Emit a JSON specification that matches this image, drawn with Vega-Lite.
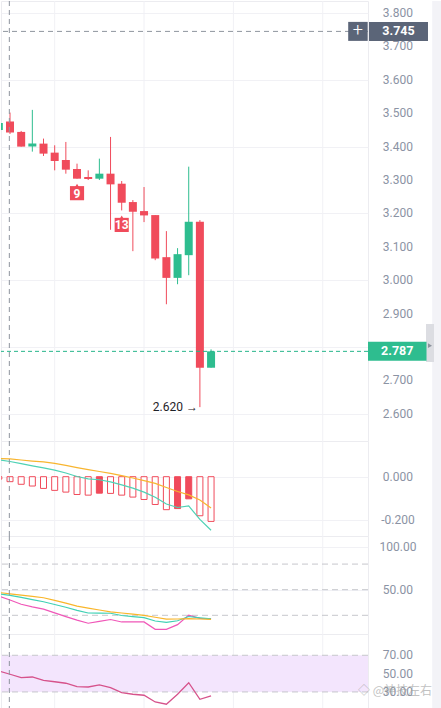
{
  "$schema": "https://vega.github.io/schema/vega-lite/v6.json",
  "background": "white",
  "padding": 0,
  "autosize": {"type": "pad"},
  "spacing": 0,
  "bounds": "flush",
  "resolve": {"scale": {"x": "independent", "y": "independent"}},
  "config": {
    "view": {"stroke": "#ececf0", "strokeWidth": 1},
    "axis": {"title": null, "domain": false, "ticks": false, "labels": false, "gridColor": "#f1f1f5"},
    "axisX": {"disable": true},
    "text": {"font": "Roboto"},
    "concat": {"spacing": 0}
  },
  "datasets": {
    "k": [
      {"i":0,"o":3.450,"h":3.475,"l":3.445,"c":3.471,"hist":-0.011,"dif":0.078,"dea":0.084,"k":45.3,"d":46.7,"j":42.6,"rsi":52.9},
      {"i":1,"o":3.475,"h":3.502,"l":3.438,"c":3.442,"hist":-0.023,"dif":0.070,"dea":0.082,"k":43.3,"d":45.2,"j":38.0,"rsi":49.3},
      {"i":2,"o":3.444,"h":3.447,"l":3.400,"c":3.400,"hist":-0.035,"dif":0.060,"dea":0.077,"k":40.9,"d":43.7,"j":32.9,"rsi":45.6},
      {"i":3,"o":3.400,"h":3.510,"l":3.385,"c":3.409,"hist":-0.043,"dif":0.050,"dea":0.072,"k":38.4,"d":42.2,"j":29.9,"rsi":46.3},
      {"i":4,"o":3.409,"h":3.424,"l":3.372,"c":3.379,"hist":-0.054,"dif":0.041,"dea":0.068,"k":35.9,"d":40.6,"j":27.3,"rsi":42.7},
      {"i":5,"o":3.382,"h":3.404,"l":3.329,"c":3.357,"hist":-0.063,"dif":0.030,"dea":0.061,"k":32.7,"d":37.5,"j":22.8,"rsi":41.1},
      {"i":6,"o":3.360,"h":3.414,"l":3.319,"c":3.331,"hist":-0.071,"dif":0.017,"dea":0.052,"k":29.4,"d":34.3,"j":18.5,"rsi":39.5},
      {"i":7,"o":3.333,"h":3.349,"l":3.304,"c":3.304,"hist":-0.082,"dif":0.001,"dea":0.042,"k":25.8,"d":30.7,"j":14.3,"rsi":35.8,"td":"9"},
      {"i":8,"o":3.309,"h":3.329,"l":3.300,"c":3.303,"hist":-0.085,"dif":-0.010,"dea":0.033,"k":22.7,"d":28.5,"j":10.7,"rsi":35.4},
      {"i":9,"o":3.304,"h":3.364,"l":3.300,"c":3.319,"hist":-0.076,"dif":-0.014,"dea":0.024,"k":22.5,"d":26.2,"j":12.9,"rsi":37.6},
      {"i":10,"o":3.319,"h":3.429,"l":3.151,"c":3.287,"hist":-0.077,"dif":-0.024,"dea":0.015,"k":22.4,"d":24.1,"j":15.1,"rsi":34.7},
      {"i":11,"o":3.289,"h":3.297,"l":3.209,"c":3.232,"hist":-0.085,"dif":-0.038,"dea":0.005,"k":19.8,"d":22.7,"j":12.2,"rsi":29.2,"td":"13"},
      {"i":12,"o":3.234,"h":3.240,"l":3.087,"c":3.205,"hist":-0.094,"dif":-0.053,"dea":-0.006,"k":18.4,"d":21.3,"j":12.2,"rsi":27.5},
      {"i":13,"o":3.207,"h":3.279,"l":3.174,"c":3.194,"hist":-0.105,"dif":-0.071,"dea":-0.018,"k":17.2,"d":20.0,"j":12.2,"rsi":26.4},
      {"i":14,"o":3.195,"h":3.195,"l":3.060,"c":3.065,"hist":-0.128,"dif":-0.095,"dea":-0.031,"k":13.3,"d":17.7,"j":3.6,"rsi":19.1},
      {"i":15,"o":3.069,"h":3.147,"l":2.928,"c":3.007,"hist":-0.152,"dif":-0.126,"dea":-0.050,"k":11.8,"d":15.5,"j":3.5,"rsi":16.6},
      {"i":16,"o":3.007,"h":3.096,"l":2.988,"c":3.078,"hist":-0.147,"dif":-0.142,"dea":-0.068,"k":13.6,"d":15.7,"j":9.1,"rsi":27.5},
      {"i":17,"o":3.075,"h":3.340,"l":3.015,"c":3.175,"hist":-0.102,"dif":-0.135,"dea":-0.084,"k":18.6,"d":16.0,"j":20.3,"rsi":40.1},
      {"i":18,"o":3.175,"h":3.180,"l":2.620,"c":2.738,"hist":-0.180,"dif":-0.197,"dea":-0.107,"k":17.1,"d":15.7,"j":16.5,"rsi":22.0},
      {"i":19,"o":2.738,"h":2.793,"l":2.738,"c":2.787,"hist":-0.206,"dif":-0.247,"dea":-0.144,"k":15.8,"d":15.3,"j":16.0,"rsi":25.6}
    ],
    "grid": [{"g": 5}, {"g": 13}, {"g": 21}, {"g": 29}],
    "priceTicks": [
      {"v": 2.6, "t": "2.600"}, {"v": 2.7, "t": "2.700"}, {"v": 2.9, "t": "2.900"}, {"v": 3.0, "t": "3.000"},
      {"v": 3.1, "t": "3.100"}, {"v": 3.2, "t": "3.200"}, {"v": 3.3, "t": "3.300"}, {"v": 3.4, "t": "3.400"},
      {"v": 3.5, "t": "3.500"}, {"v": 3.6, "t": "3.600"}, {"v": 3.7, "t": "3.700"}, {"v": 3.8, "t": "3.800"}
    ],
    "macdTicks": [{"v": 0, "t": "0.000"}, {"v": -0.2, "t": "-0.200"}],
    "kdjTicks": [{"v": 100, "t": "100.00"}, {"v": 50, "t": "50.00"}],
    "rsiTicks": [{"v": 70, "t": "70.00"}, {"v": 50, "t": "50.00"}, {"v": 30, "t": "30.00"}],
    "cross": [{"i": 0.94, "price": 3.745, "label": "3.745"}],
    "last": [{"price": 2.787, "label": "2.787"}],
    "lowmark": [{"i": 18, "price": 2.62, "text": "2.620 →"}]
  },
  "vconcat": [
    {
      "width": 367,
      "height": 440,
      "data": {"name": "k"},
      "layer": [
        {
          "data": {"name": "grid"},
          "mark": {"type": "rule", "color": "#f1f1f5", "strokeWidth": 1},
          "encoding": {"x": {"field": "g", "type": "quantitative", "scale": {"domain": [0.194, 33.05], "nice": false, "zero": false, "padding": 0}}}
        },
        {
          "data": {"values": [{"a": 1}]},
          "mark": {"type": "rect", "color": "#f3f3f7", "clip": false},
          "encoding": {"x": {"datum": 38.8, "type": "quantitative"}, "x2": {"datum": 40.3}}
        },
        {
          "mark": {"type": "rule", "strokeWidth": 1, "clip": true},
          "encoding": {
            "x": {"field": "i", "type": "quantitative"},
            "y": {"field": "l", "type": "quantitative", "scale": {"domain": [2.5186, 3.836], "nice": false, "zero": false}, "axis": {"orient": "right", "values": [2.6, 2.7, 2.8, 2.9, 3.0, 3.1, 3.2, 3.3, 3.4, 3.5, 3.6, 3.7, 3.8], "grid": true}},
            "y2": {"field": "h"},
            "color": {"condition": {"test": "datum.c >= datum.o", "value": "#2ebd8f"}, "value": "#f04b5b"}
          }
        },
        {
          "mark": {"type": "bar", "size": 8, "clip": true},
          "encoding": {
            "x": {"field": "i", "type": "quantitative"},
            "y": {"field": "o", "type": "quantitative"},
            "y2": {"field": "c"},
            "color": {"condition": {"test": "datum.c >= datum.o", "value": "#2ebd8f"}, "value": "#f04b5b"}
          }
        },
        {
          "data": {"name": "priceTicks"},
          "mark": {"type": "text", "color": "#8b93a4", "fontSize": 12, "align": "center", "baseline": "middle", "clip": false},
          "encoding": {"x": {"datum": 35.73, "type": "quantitative"}, "y": {"field": "v", "type": "quantitative"}, "text": {"field": "t"}}
        },
        {
          "data": {"name": "last"},
          "mark": {"type": "rule", "color": "#26b58b", "strokeDash": [4, 3], "strokeWidth": 1},
          "encoding": {"y": {"field": "price", "type": "quantitative"}}
        },
        {
          "data": {"name": "cross"},
          "mark": {"type": "rule", "color": "#8f959e", "strokeDash": [5, 4], "strokeWidth": 1},
          "encoding": {"y": {"field": "price", "type": "quantitative"}}
        },
        {
          "data": {"name": "cross"},
          "mark": {"type": "rule", "color": "#8f959e", "strokeDash": [5, 4], "strokeWidth": 1},
          "encoding": {"x": {"field": "i", "type": "quantitative"}}
        },
        {
          "transform": [{"filter": "isValid(datum.td)"}],
          "mark": {"type": "point", "shape": "triangle-up", "filled": true, "size": 22, "opacity": 1, "color": "#f04b5b", "yOffset": 7},
          "encoding": {"x": {"field": "i", "type": "quantitative"}, "y": {"field": "l", "type": "quantitative"}}
        },
        {
          "transform": [{"filter": "isValid(datum.td)"}],
          "mark": {"type": "square", "size": 200, "opacity": 1, "color": "#f04b5b", "yOffset": 14.5},
          "encoding": {"x": {"field": "i", "type": "quantitative"}, "y": {"field": "l", "type": "quantitative"}}
        },
        {
          "transform": [{"filter": "isValid(datum.td)"}],
          "mark": {"type": "text", "color": "white", "fontSize": 12, "fontWeight": "bold", "baseline": "middle", "dy": 15},
          "encoding": {"x": {"field": "i", "type": "quantitative"}, "y": {"field": "l", "type": "quantitative"}, "text": {"field": "td"}}
        },
        {
          "data": {"name": "lowmark"},
          "mark": {"type": "text", "align": "right", "baseline": "middle", "dx": -2, "fontSize": 12, "color": "#1f2329"},
          "encoding": {"x": {"field": "i", "type": "quantitative"}, "y": {"field": "price", "type": "quantitative"}, "text": {"field": "text"}}
        },
        {
          "data": {"name": "cross"},
          "mark": {"type": "tick", "orient": "vertical", "thickness": 19.5, "size": 19, "color": "#5b6578", "opacity": 1, "clip": false},
          "encoding": {"x": {"datum": 32.15, "type": "quantitative"}, "y": {"field": "price", "type": "quantitative"}}
        },
        {
          "data": {"name": "cross"},
          "mark": {"type": "text", "color": "white", "fontSize": 18, "fontWeight": 300, "baseline": "middle", "clip": false},
          "encoding": {"x": {"datum": 32.15, "type": "quantitative"}, "y": {"field": "price", "type": "quantitative"}, "text": {"value": "+"}}
        },
        {
          "data": {"name": "cross"},
          "mark": {"type": "tick", "orient": "vertical", "thickness": 59, "size": 19, "color": "#5b6578", "opacity": 1, "clip": false},
          "encoding": {"x": {"datum": 35.78, "type": "quantitative"}, "y": {"field": "price", "type": "quantitative"}}
        },
        {
          "data": {"name": "cross"},
          "mark": {"type": "text", "color": "white", "fontSize": 12.5, "fontWeight": "bold", "baseline": "middle", "clip": false},
          "encoding": {"x": {"datum": 35.78, "type": "quantitative"}, "y": {"field": "price", "type": "quantitative"}, "text": {"field": "label"}}
        },
        {
          "data": {"values": [{"price": 2.812}]},
          "mark": {"type": "tick", "orient": "vertical", "thickness": 8, "size": 38, "color": "#dcdde2", "opacity": 1, "clip": false},
          "encoding": {"x": {"datum": 38.6, "type": "quantitative"}, "y": {"field": "price", "type": "quantitative"}}
        },
        {
          "data": {"values": [{"price": 2.804}]},
          "mark": {"type": "point", "shape": "triangle-right", "filled": true, "size": 22, "opacity": 1, "color": "#8d939e", "clip": false},
          "encoding": {"x": {"datum": 38.6, "type": "quantitative"}, "y": {"field": "price", "type": "quantitative"}}
        },
        {
          "data": {"name": "last"},
          "mark": {"type": "tick", "orient": "vertical", "thickness": 58.5, "size": 19, "color": "#2ebd8f", "opacity": 1, "clip": false},
          "encoding": {"x": {"datum": 35.67, "type": "quantitative"}, "y": {"field": "price", "type": "quantitative"}}
        },
        {
          "data": {"name": "last"},
          "mark": {"type": "text", "color": "white", "fontSize": 12.5, "fontWeight": "bold", "baseline": "middle", "clip": false},
          "encoding": {"x": {"datum": 35.67, "type": "quantitative"}, "y": {"field": "price", "type": "quantitative"}, "text": {"field": "label"}}
        }
      ]
    },
    {
      "width": 367,
      "height": 95,
      "data": {"name": "k"},
      "layer": [
        {
          "data": {"name": "grid"},
          "mark": {"type": "rule", "color": "#f1f1f5", "strokeWidth": 1},
          "encoding": {"x": {"field": "g", "type": "quantitative", "scale": {"domain": [0.194, 33.05], "nice": false, "zero": false, "padding": 0}}}
        },
        {
          "data": {"values": [{"a": 1}]},
          "mark": {"type": "rect", "color": "#f3f3f7", "clip": false},
          "encoding": {"x": {"datum": 38.8, "type": "quantitative"}, "x2": {"datum": 40.3}}
        },
        {
          "transform": [{"window": [{"op": "lag", "field": "hist", "as": "prev"}], "sort": [{"field": "i"}]}],
          "mark": {"type": "bar", "size": 6, "stroke": "#f04b5b", "strokeWidth": 1, "clip": true},
          "encoding": {
            "x": {"field": "i", "type": "quantitative"},
            "y": {"field": "hist", "type": "quantitative", "scale": {"domain": [-0.2733, 0.1645], "nice": false, "zero": false}, "axis": {"orient": "right", "values": [0, -0.2], "grid": true}},
            "y2": {"datum": 0},
            "fill": {"condition": {"test": "datum.hist > datum.prev", "value": "#f04b5b"}, "value": "#ffffff"}
          }
        },
        {
          "mark": {"type": "line", "color": "#f8b52f", "strokeWidth": 1.2, "clip": true},
          "encoding": {"x": {"field": "i", "type": "quantitative"}, "y": {"field": "dea", "type": "quantitative"}}
        },
        {
          "mark": {"type": "line", "color": "#4fd2b5", "strokeWidth": 1.2, "clip": true},
          "encoding": {"x": {"field": "i", "type": "quantitative"}, "y": {"field": "dif", "type": "quantitative"}}
        },
        {
          "data": {"name": "cross"},
          "mark": {"type": "rule", "color": "#8f959e", "strokeDash": [5, 4], "strokeWidth": 1},
          "encoding": {"x": {"field": "i", "type": "quantitative"}}
        },
        {
          "data": {"name": "macdTicks"},
          "mark": {"type": "text", "color": "#8b93a4", "fontSize": 12, "align": "center", "baseline": "middle", "clip": false},
          "encoding": {"x": {"datum": 35.73, "type": "quantitative"}, "y": {"field": "v", "type": "quantitative"}, "text": {"field": "t"}}
        }
      ]
    },
    {
      "width": 367,
      "height": 98,
      "data": {"name": "k"},
      "layer": [
        {
          "data": {"name": "grid"},
          "mark": {"type": "rule", "color": "#f1f1f5", "strokeWidth": 1},
          "encoding": {"x": {"field": "g", "type": "quantitative", "scale": {"domain": [0.194, 33.05], "nice": false, "zero": false, "padding": 0}}}
        },
        {
          "data": {"values": [{"a": 1}]},
          "mark": {"type": "rect", "color": "#f3f3f7", "clip": false},
          "encoding": {"x": {"datum": 38.8, "type": "quantitative"}, "x2": {"datum": 40.3}}
        },
        {
          "data": {"values": [{"v": 80}, {"v": 50}, {"v": 20}]},
          "mark": {"type": "rule", "color": "#c6c7cc", "strokeDash": [6, 4], "strokeWidth": 1},
          "encoding": {"y": {"field": "v", "type": "quantitative", "scale": {"domain": [-1.9, 112.9], "nice": false, "zero": false}, "axis": {"orient": "right", "values": [100, 50], "grid": true}}}
        },
        {
          "mark": {"type": "line", "color": "#f057b8", "strokeWidth": 1.2, "clip": true},
          "encoding": {"x": {"field": "i", "type": "quantitative"}, "y": {"field": "j", "type": "quantitative"}}
        },
        {
          "mark": {"type": "line", "color": "#3fd1b4", "strokeWidth": 1.2, "clip": true},
          "encoding": {"x": {"field": "i", "type": "quantitative"}, "y": {"field": "k", "type": "quantitative"}}
        },
        {
          "mark": {"type": "line", "color": "#f9b62b", "strokeWidth": 1.2, "clip": true},
          "encoding": {"x": {"field": "i", "type": "quantitative"}, "y": {"field": "d", "type": "quantitative"}}
        },
        {
          "data": {"name": "cross"},
          "mark": {"type": "rule", "color": "#8f959e", "strokeDash": [5, 4], "strokeWidth": 1},
          "encoding": {"x": {"field": "i", "type": "quantitative"}}
        },
        {
          "data": {"name": "kdjTicks"},
          "mark": {"type": "text", "color": "#8b93a4", "fontSize": 12, "align": "center", "baseline": "middle", "clip": false},
          "encoding": {"x": {"datum": 35.73, "type": "quantitative"}, "y": {"field": "v", "type": "quantitative"}, "text": {"field": "t"}}
        }
      ]
    },
    {
      "width": 367,
      "height": 75,
      "data": {"name": "k"},
      "layer": [
        {
          "data": {"name": "grid"},
          "mark": {"type": "rule", "color": "#f1f1f5", "strokeWidth": 1},
          "encoding": {"x": {"field": "g", "type": "quantitative", "scale": {"domain": [0.194, 33.05], "nice": false, "zero": false, "padding": 0}}}
        },
        {
          "data": {"values": [{"a": 1}]},
          "mark": {"type": "rect", "color": "#f3f3f7", "clip": false},
          "encoding": {"x": {"datum": 38.8, "type": "quantitative"}, "x2": {"datum": 40.3}}
        },
        {
          "data": {"values": [{"lo": 30, "hi": 70}]},
          "mark": {"type": "rect", "color": "#f3e5fd"},
          "encoding": {
            "y": {"field": "lo", "type": "quantitative", "scale": {"domain": [11.4, 93.2], "nice": false, "zero": false}, "axis": {"orient": "right", "values": [70, 50, 30], "grid": false}},
            "y2": {"field": "hi"}
          }
        },
        {
          "data": {"values": [{"v": 70}, {"v": 30}]},
          "mark": {"type": "rule", "color": "#c6c7cc", "strokeDash": [6, 4], "strokeWidth": 1},
          "encoding": {"y": {"field": "v", "type": "quantitative"}}
        },
        {
          "mark": {"type": "line", "color": "#d6528b", "strokeWidth": 1.3, "clip": true},
          "encoding": {"x": {"field": "i", "type": "quantitative"}, "y": {"field": "rsi", "type": "quantitative"}}
        },
        {
          "data": {"name": "cross"},
          "mark": {"type": "rule", "color": "#8f959e", "strokeDash": [5, 4], "strokeWidth": 1},
          "encoding": {"x": {"field": "i", "type": "quantitative"}}
        },
        {
          "data": {"name": "rsiTicks"},
          "mark": {"type": "text", "color": "#8b93a4", "fontSize": 12, "align": "center", "baseline": "middle", "clip": false},
          "encoding": {"x": {"datum": 35.73, "type": "quantitative"}, "y": {"field": "v", "type": "quantitative"}, "text": {"field": "t"}}
        },
        {
          "data": {"values": [{"wm": "◇ @神技左右", "v": 31.1}]},
          "mark": {"type": "text", "color": "#9a9a9a", "opacity": 0.6, "fontSize": 12, "font": "Noto Sans CJK SC", "baseline": "middle", "clip": false},
          "encoding": {"x": {"datum": 35.47, "type": "quantitative"}, "y": {"field": "v", "type": "quantitative"}, "text": {"field": "wm"}}
        }
      ]
    }
  ]
}
